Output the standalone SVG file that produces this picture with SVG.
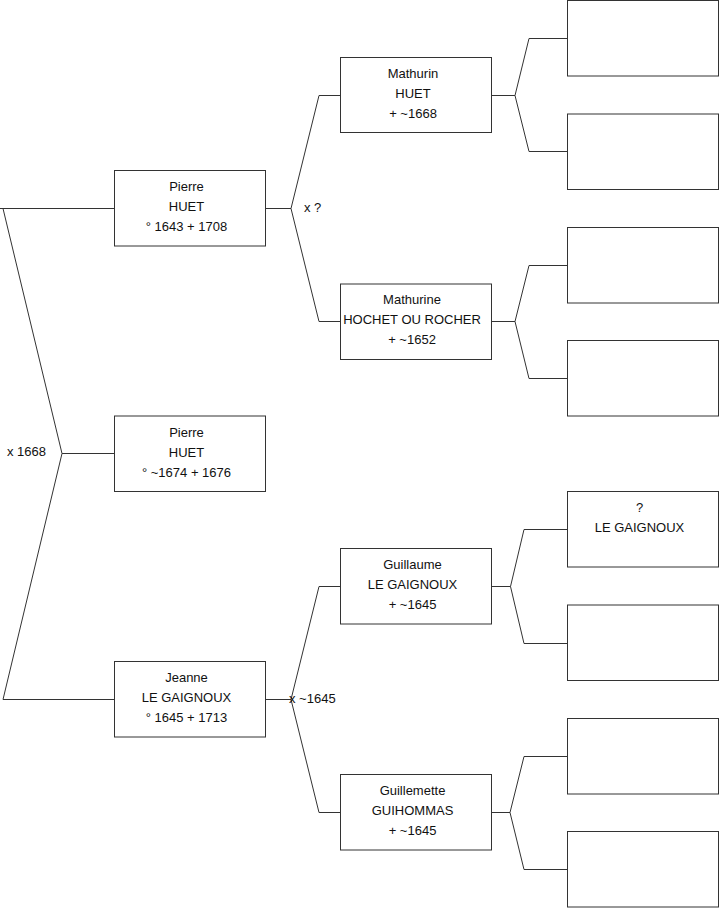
<svg xmlns="http://www.w3.org/2000/svg" width="719" height="908" viewBox="0 0 719 908">
<style>
  rect.box { fill: #ffffff; stroke: #333333; stroke-width: 1; }
  .conn path { fill: none; stroke: #333333; stroke-width: 1; }
  text { font-family: "Liberation Sans", Arial, sans-serif; font-size: 13px; fill: #111111; }
  text.c { text-anchor: middle; }
</style>
<rect x="0" y="0" width="719" height="908" fill="#ffffff"/>
<g id="connectors" class="conn">
  <path d="M0,208.5 H114 M3,208.5 L62,453.5 L3,699.5 H114 M62,453.5 H114"/>
  <path d="M265,208.5 H291 L319,95.5 H340 M291,208.5 L319,321.5 H340"/>
  <path d="M265,699.5 H291 L319,586.5 H340 M291,699.5 L319,812.5 H340"/>
  <path d="M492,95.5 H515 L529,38.5 H567 M515,95.5 L529,151.5 H567"/>
  <path d="M492,321.5 H515 L529,265.5 H567 M515,321.5 L529,378.5 H567"/>
  <path d="M492,586.5 H510.5 L524,529.5 H567 M510.5,586.5 L524,643.5 H567"/>
  <path d="M492,812.5 H510 L524,756.5 H567 M510,812.5 L524,869.5 H567"/>
  <text x="304" y="211.5">x ?</text>
  <text x="7" y="455.5">x 1668</text>
  <text x="289" y="702.5">x ~1645</text>
</g>
<g id="pierre-huet-1643">
  <rect class="box" x="114.5" y="170.5" width="151" height="75.5"/>
  <text class="c" x="186.5" y="190.5">Pierre</text>
  <text class="c" x="186.5" y="210.5">HUET</text>
  <text class="c" x="186.5" y="230.5">° 1643 + 1708</text>
</g>
<g id="pierre-huet-1674">
  <rect class="box" x="114.5" y="416" width="151" height="75.5"/>
  <text class="c" x="186.5" y="436.5">Pierre</text>
  <text class="c" x="186.5" y="456.5">HUET</text>
  <text class="c" x="186.5" y="476.5">° ~1674 + 1676</text>
</g>
<g id="jeanne-le-gaignoux">
  <rect class="box" x="114.5" y="661.5" width="151" height="75.5"/>
  <text class="c" x="186.5" y="681.5">Jeanne</text>
  <text class="c" x="186.5" y="701.5">LE GAIGNOUX</text>
  <text class="c" x="186.5" y="721.5">° 1645 + 1713</text>
</g>
<g id="mathurin-huet">
  <rect class="box" x="340.5" y="57.5" width="151" height="75"/>
  <text class="c" x="413" y="77.5">Mathurin</text>
  <text class="c" x="413" y="97.5">HUET</text>
  <text class="c" x="413" y="117.5">+ ~1668</text>
</g>
<g id="mathurine-hochet">
  <rect class="box" x="340.5" y="284" width="151" height="75.5"/>
  <text class="c" x="412" y="304">Mathurine</text>
  <text class="c" x="412" y="324">HOCHET OU ROCHER</text>
  <text class="c" x="412" y="344">+ ~1652</text>
</g>
<g id="guillaume-le-gaignoux">
  <rect class="box" x="340.5" y="548.5" width="151" height="75.5"/>
  <text class="c" x="412.5" y="568.5">Guillaume</text>
  <text class="c" x="412.5" y="588.5">LE GAIGNOUX</text>
  <text class="c" x="412.5" y="608.5">+ ~1645</text>
</g>
<g id="guillemette-guihommas">
  <rect class="box" x="340.5" y="774.5" width="151" height="75.5"/>
  <text class="c" x="412.5" y="794.5">Guillemette</text>
  <text class="c" x="412.5" y="814.5">GUIHOMMAS</text>
  <text class="c" x="412.5" y="834.5">+ ~1645</text>
</g>
<g id="gp1"><rect class="box" x="567.5" y="0.5" width="151" height="75.5"/></g>
<g id="gp2"><rect class="box" x="567.5" y="114" width="151" height="75.5"/></g>
<g id="gp3"><rect class="box" x="567.5" y="227.5" width="151" height="75.5"/></g>
<g id="gp4"><rect class="box" x="567.5" y="340.5" width="151" height="75.5"/></g>
<g id="gp5">
  <rect class="box" x="567.5" y="491.5" width="151" height="75.5"/>
  <text class="c" x="639.5" y="511.5">?</text>
  <text class="c" x="639.5" y="531.5">LE GAIGNOUX</text>
</g>
<g id="gp6"><rect class="box" x="567.5" y="605" width="151" height="75.5"/></g>
<g id="gp7"><rect class="box" x="567.5" y="718.5" width="151" height="75.5"/></g>
<g id="gp8"><rect class="box" x="567.5" y="831.5" width="151" height="75.5"/></g>
</svg>
